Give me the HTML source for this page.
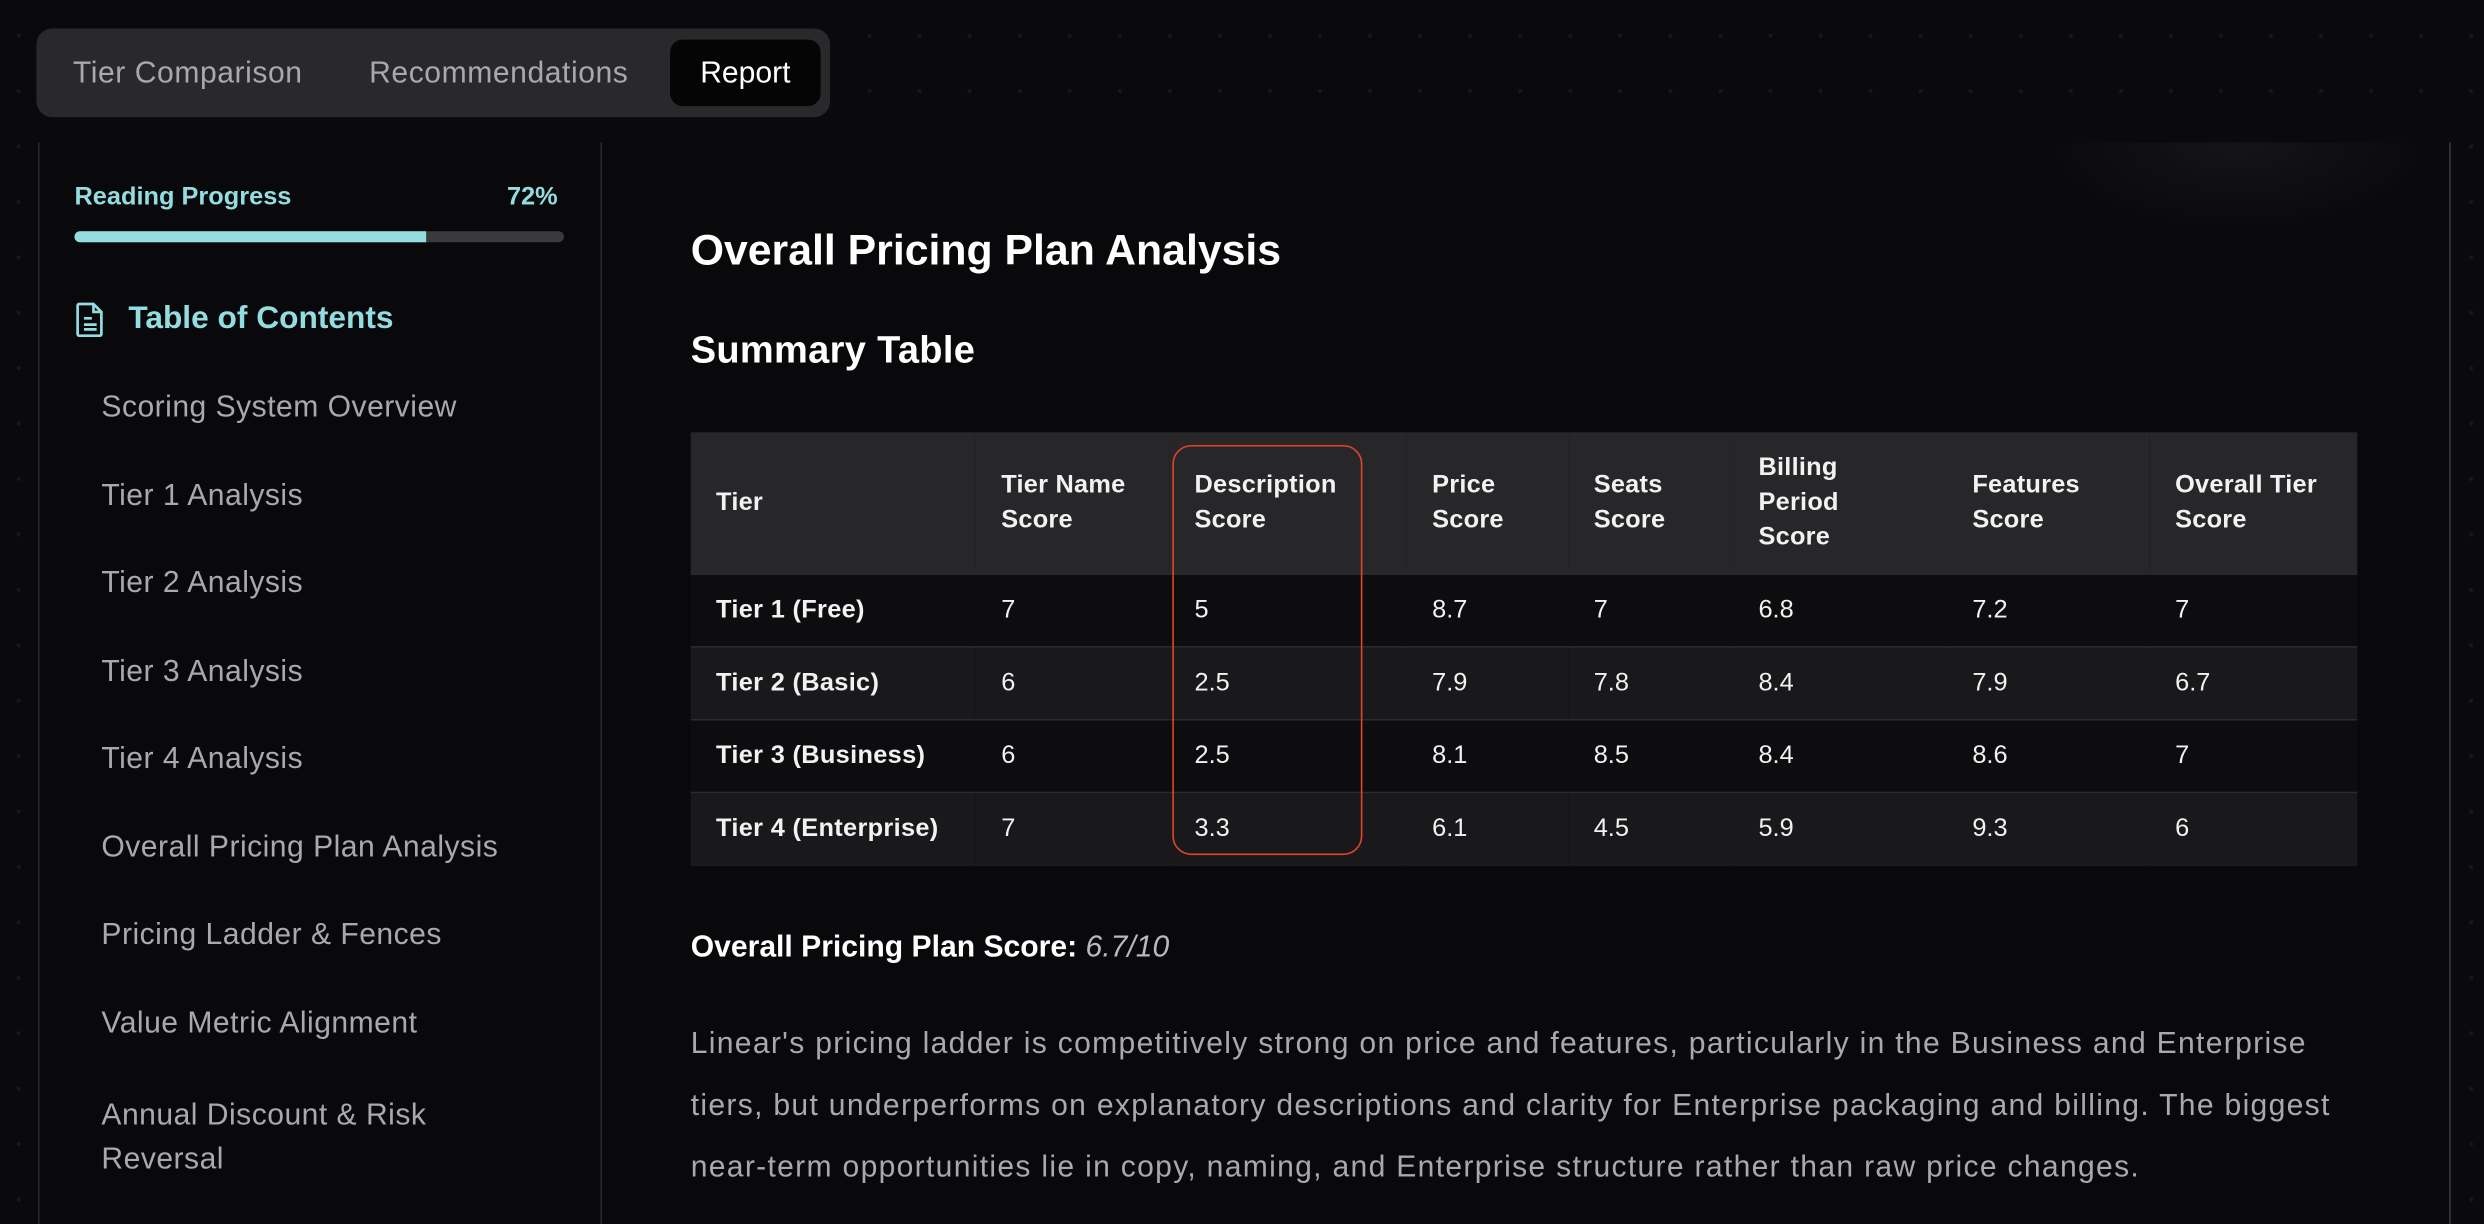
<!DOCTYPE html>
<html><head><meta charset="utf-8">
<style>
html,body{margin:0;padding:0;background:#0a0a0c;overflow:hidden;}
body{width:2484px;height:1224px;position:relative;font-family:"Liberation Sans",sans-serif;}
#w{position:absolute;left:0;top:0;width:1568px;height:773px;transform:scale(1.5842,1.5835);transform-origin:0 0;
background-color:#0a0a0c;background-image:radial-gradient(circle,#18181b 1.1px,transparent 1.5px);background-size:31.6px 35px;background-position:-4px 5px;}
.abs{position:absolute;}
#tabs{left:23px;top:18px;width:501px;height:56px;background:#29292c;border-radius:10px;}
.tab{position:absolute;top:1px;height:56px;line-height:56px;font-size:19px;color:#a8a8ae;letter-spacing:0.35px;}
#rep{position:absolute;left:400px;top:7px;width:95px;height:42px;background:#050506;border-radius:8px;color:#fff;font-size:19px;line-height:44px;text-align:center;}
#panel{left:24px;top:90px;width:1521px;height:700px;background:#09090b;border-left:1px solid #27272a;border-right:1px solid #3a3a3d;}
#glow{left:1280px;top:90px;width:265px;height:60px;background:radial-gradient(ellipse at 50% 0%,#151517 0%,transparent 70%);}
#sep{left:379px;top:90px;width:1px;height:700px;background:#2a2a2d;}
.toc{position:absolute;left:64px;font-size:19px;color:#a8a8ae;letter-spacing:0.3px;}
table{position:absolute;left:436px;top:273px;width:1052px;border-collapse:collapse;font-size:16px;color:#f2f2f2;}
th{background:#27272a;text-align:left;font-weight:bold;height:89px;padding:0 0 0 16px;line-height:22px;letter-spacing:0.15px;}
td{height:46px;box-sizing:border-box;padding:1px 0 0 16px;border-top:1px solid #2c2c2f;}
tr.a td{background:#0d0d0f}tr.b td{background:#19191b}
td.n{font-weight:bold;letter-spacing:0.2px}
#para div{white-space:nowrap}
</style></head><body>
<div id="w">
<div id="tabs" class="abs">
 <div class="tab" style="left:23px">Tier Comparison</div>
 <div class="tab" style="left:210px">Recommendations</div>
 <div id="rep">Report</div>
</div>
<div id="panel" class="abs"></div>
<div id="glow" class="abs"></div>
<div id="sep" class="abs"></div>
<div class="abs" style="left:47px;top:116px;font-size:16px;font-weight:bold;color:#93dde1">Reading Progress</div>
<div class="abs" style="left:320px;top:116px;font-size:16px;font-weight:bold;color:#93dde1">72%</div>
<div class="abs" style="left:47px;top:146px;width:309px;height:7px;background:#3a3a3c;border-radius:4px"><div style="width:72%;height:100%;background:#93dde1;border-radius:4px 0 0 4px"></div></div>
<svg class="abs" style="left:46px;top:190px" width="22" height="24" viewBox="0 0 22 24"><path d="M4 2h9l5 5v14a1 1 0 0 1-1 1H4a1 1 0 0 1-1-1V3a1 1 0 0 1 1-1z M13 2v5h5 M7 11h5 M7 15h8 M7 18h8" fill="none" stroke="#93dde1" stroke-width="1.7"/></svg>
<div class="abs" style="left:81px;top:190px;font-size:20px;font-weight:bold;color:#93dde1">Table of Contents</div>
<div class="toc" style="top:247px">Scoring System Overview</div>
<div class="toc" style="top:303px">Tier 1 Analysis</div>
<div class="toc" style="top:358px">Tier 2 Analysis</div>
<div class="toc" style="top:414px">Tier 3 Analysis</div>
<div class="toc" style="top:469px">Tier 4 Analysis</div>
<div class="toc" style="top:525px">Overall Pricing Plan Analysis</div>
<div class="toc" style="top:580px">Pricing Ladder &amp; Fences</div>
<div class="toc" style="top:636px">Value Metric Alignment</div>
<div class="toc" style="top:691px;line-height:28px">Annual Discount &amp; Risk<br>Reversal</div>
<div class="abs" style="left:436px;top:143px;font-size:27px;font-weight:bold;color:#fff">Overall Pricing Plan Analysis</div>
<div class="abs" style="left:436px;top:208px;font-size:24px;font-weight:bold;color:#fff;letter-spacing:0.2px">Summary Table</div>
<table>
<colgroup><col style="width:180px"><col style="width:122px"><col style="width:150px"><col style="width:102px"><col style="width:104px"><col style="width:135px"><col style="width:128px"><col></colgroup>
<tr><th>Tier</th><th>Tier Name<br>Score</th><th>Description<br>Score</th><th>Price<br>Score</th><th>Seats<br>Score</th><th>Billing<br>Period<br>Score</th><th>Features<br>Score</th><th>Overall Tier<br>Score</th></tr>
<tr class="a"><td class="n">Tier 1 (Free)</td><td>7</td><td>5</td><td>8.7</td><td>7</td><td>6.8</td><td>7.2</td><td>7</td></tr>
<tr class="b"><td class="n">Tier 2 (Basic)</td><td>6</td><td>2.5</td><td>7.9</td><td>7.8</td><td>8.4</td><td>7.9</td><td>6.7</td></tr>
<tr class="a"><td class="n">Tier 3 (Business)</td><td>6</td><td>2.5</td><td>8.1</td><td>8.5</td><td>8.4</td><td>8.6</td><td>7</td></tr>
<tr class="b"><td class="n">Tier 4 (Enterprise)</td><td>7</td><td>3.3</td><td>6.1</td><td>4.5</td><td>5.9</td><td>9.3</td><td>6</td></tr>
</table>
<div class="abs" style="left:740px;top:281px;width:118px;height:257px;border:1.6px solid #e5432b;border-radius:12px"></div>
<div class="abs" style="left:436px;top:588px;font-size:19px;color:#fff"><b>Overall Pricing Plan Score:</b> <i style="color:#b8b8bd">6.7/10</i></div>
<div id="para" class="abs" style="left:436px;top:640px;font-size:19px;line-height:39px;color:#a8a8ae;letter-spacing:0.82px"><div>Linear's pricing ladder is competitively strong on price and features, particularly in the Business and Enterprise</div><div>tiers, but underperforms on explanatory descriptions and clarity for Enterprise packaging and billing. The biggest</div><div>near-term opportunities lie in copy, naming, and Enterprise structure rather than raw price changes.</div></div>
</div>
</body></html>
